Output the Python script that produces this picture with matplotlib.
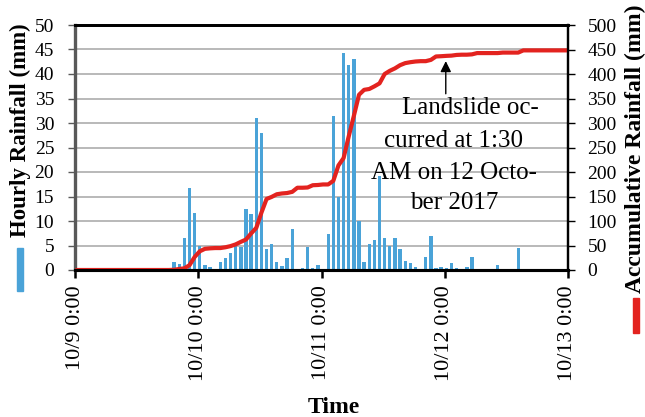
import numpy as np
import matplotlib
matplotlib.use('Agg')
import matplotlib.pyplot as plt
from matplotlib.patches import Rectangle

plt.rcParams['font.family'] = ['Liberation Serif', 'DejaVu Serif']

# hourly rainfall (mm), one value per hour from 10/9 0:00
hourly = [0.0] * 96
readings = {
    18: 0.5, 19: 1.6, 20: 1.3, 21: 6.5, 22: 16.7, 23: 11.6, 24: 5.0, 25: 1.0,
    26: 0.6, 28: 1.6, 29: 2.4, 30: 3.5, 31: 5.2, 32: 4.7, 33: 12.4, 34: 11.4,
    35: 31.0, 36: 27.9, 37: 4.3, 38: 5.4, 39: 1.6, 40: 0.9, 41: 2.4, 42: 8.4,
    44: 0.5, 45: 4.6, 46: 0.5, 47: 1.1, 49: 7.4, 50: 31.4, 51: 15.0, 52: 44.2,
    53: 41.9, 54: 43.1, 55: 10.1, 56: 1.7, 57: 5.4, 58: 6.1, 59: 19.1, 60: 6.5,
    61: 5.0, 62: 6.5, 63: 4.2, 64: 1.9, 65: 1.4, 66: 0.7, 68: 2.6, 69: 7.0,
    70: 0.5, 71: 0.7, 72: 0.5, 73: 1.4, 74: 0.5, 76: 0.7, 77: 2.6, 82: 1.0,
    86: 4.5,
}
for h, v in readings.items():
    hourly[h] = v

hours = np.arange(96)
cumulative = np.concatenate([[0.0], np.cumsum(hourly)])
cum_hours = np.arange(97)

tick_hours = [0, 24, 48, 72, 96]
tick_labels = ['10/9 0:00', '10/10 0:00', '10/11 0:00', '10/12 0:00', '10/13 0:00']

note_lines = ['Landslide oc-', 'curred at 1:30', 'AM on 12 Octo-', 'ber 2017']

W, H = 645, 417
fig = plt.figure(figsize=(W / 100, H / 100), dpi=100)
ax = fig.add_axes([75 / W, 1 - 270 / H, (568 - 75) / W, (270 - 25) / H])
ax2 = ax.twinx()

ax.bar(hours + 0.3, hourly, width=0.65, color='#4aa3d8', zorder=2)
ax.set_xlim(0, 96)
ax.set_ylim(0, 50)
ax.set_yticks(np.arange(0, 51, 5))
ax.set_xticks(tick_hours)
ax.set_xticklabels(tick_labels, rotation=90, fontsize=16)
ax.tick_params(axis='y', labelsize=14, length=5, width=1, color='#595959', pad=10)
ax.tick_params(axis='x', length=6, width=1.8, pad=5)
ax.grid(axis='y', color='#a6a6a6', linewidth=1.1)
ax.set_axisbelow(True)

ax2.plot(cum_hours + 0.3, cumulative, color='#e3231f', linewidth=3,
         solid_capstyle='round', solid_joinstyle='round')
ax2.set_ylim(0, 500)
ax2.set_yticks(np.arange(0, 501, 50))
ax2.tick_params(axis='y', labelsize=14, length=5, width=1, pad=9)

ax.spines['left'].set_color('#595959')
ax.spines['left'].set_linewidth(2.4)
for a in (ax, ax2):
    a.spines['top'].set_linewidth(2)
    a.spines['bottom'].set_linewidth(2.2)
    a.spines['right'].set_linewidth(1.6)
ax2.spines['left'].set_visible(False)

# landslide annotation
ax2.annotate('', xy=(72.2, 432), xytext=(72.2, 354),
             arrowprops=dict(arrowstyle='-|>', color='black', lw=1, mutation_scale=16))
note_x = [470, 454, 454, 454]
note_base = [114.3, 146.7, 179, 209.3]
for txt, xp, yp in zip(note_lines, note_x, note_base):
    fig.text(xp / W, 1 - yp / H, txt, fontsize=18, ha='center', va='baseline')

fig.text(334 / W, 1 - 412.7 / H, 'Time', fontsize=17, fontweight='bold', ha='center', va='baseline')
fig.text(20 / W, 1 - 130 / H, 'Hourly Rainfall (mm)', fontsize=16.5, fontweight='bold',
         rotation=90, ha='center', va='center')
fig.text(635 / W, 1 - 149 / H, 'Accumulative Rainfall (mm)', fontsize=17, fontweight='bold',
         rotation=90, ha='center', va='center')

# legend keys below the axis titles
fig.add_artist(Rectangle((16.5 / W, 1 - 291 / H), 6 / W, 43 / H, transform=fig.transFigure,
                         color='#4aa3d8'))
fig.add_artist(Rectangle((633.3 / W, 1 - 333 / H), 5.7 / W, 35 / H, transform=fig.transFigure,
                         color='#e3231f'))

fig.savefig('out.png', dpi=100)
